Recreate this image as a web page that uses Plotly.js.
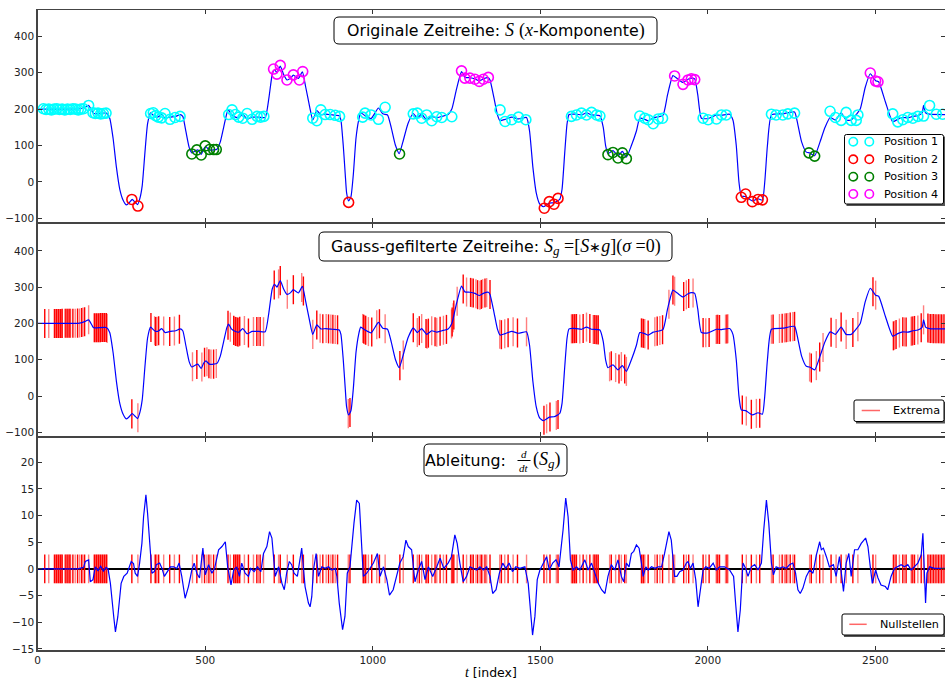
<!DOCTYPE html>
<html><head><meta charset="utf-8">
<script src="https://cdn.plot.ly/plotly-3.0.1.min.js"></script>
<style>html,body{margin:0;padding:0;background:#fff}#chart{width:945px;height:680px}</style>
</head><body><div id="chart"></div>
<script>
// ---- Original series S (x-component), key samples ----
const sT = [0,60,125,140,152,162,167,205,215,225,235,245,255,265,275,282,290,298,305,312,320,328,337,345,352,362,370,380,395,412,425,433,442,452,460,470,478,488,495,502,512,525,535,545,555,565,570,578,590,600,612,625,640,660,679,690,700,707,714,724,734,744,755,763,778,790,800,812,821,833,845,860,880,900,905,912,918,922,928,935,942,950,958,964,977,995,1017,1030,1044,1055,1068,1079,1090,1105,1121,1133,1146,1161,1176,1191,1206,1225,1236,1250,1265,1275,1290,1305,1318,1330,1345,1350,1362,1372,1380,1395,1415,1435,1459,1468,1478,1488,1498,1509,1527,1541,1558,1565,1573,1580,1586,1608,1623,1638,1653,1678,1688,1695,1702,1717,1732,1745,1757,1772,1787,1797,1812,1822,1837,1866,1880,1896,1910,1926,1941,1951,1961,1970,1981,2001,2026,2041,2065,2075,2085,2093,2100,2113,2133,2150,2163,2170,2178,2190,2224,2259,2266,2280,2294,2304,2319,2335,2350,2365,2381,2398,2413,2428,2443,2455,2470,2485,2501,2510,2530,2552,2567,2582,2597,2612,2627,2640,2644,2650,2662,2708];
const sV = [200,200,201,205,210,195,188,189,175,120,40,-20,-50,-63,-55,-48,-55,-62,-45,-10,80,160,190,183,178,180,186,175,178,180,185,180,140,95,80,85,88,76,90,97,88,88,90,110,150,190,198,185,178,176,186,172,178,178,177,230,295,308,300,318,295,280,285,293,284,302,260,205,170,196,185,186,184,182,170,100,20,-30,-52,-40,20,120,170,190,182,174,203,187,184,150,100,78,110,160,188,175,186,170,180,176,180,185,200,255,303,287,286,283,277,283,286,280,230,185,168,172,178,173,177,140,40,-30,-60,-68,-58,-57,-48,-20,80,160,185,186,184,190,184,182,150,100,78,86,72,84,68,100,140,175,172,168,176,183,240,292,283,273,282,285,283,240,175,174,184,183,186,170,100,0,-38,-40,-52,-46,-50,0,100,184,187,192,170,110,82,80,72,110,150,177,170,190,170,170,185,200,260,297,278,275,220,165,172,177,176,180,182,190,210,190,186,185];

// ---- Classified positions (circles) ----
const pos1T = [17,25,33,41,49,57,65,73,81,89,97,105,113,121,129,137,152,165,172,180,188,196,204,337,345,352,360,370,380,395,410,425,570,580,590,600,612,625,640,655,665,675,821,833,845,858,873,888,901,970,977,995,1017,1037,1121,1133,1146,1161,1176,1191,1206,1236,1380,1395,1415,1435,1457,1593,1608,1623,1638,1653,1668,1678,1797,1812,1822,1837,1852,1865,1986,2001,2026,2041,2055,2190,2204,2224,2239,2259,2365,2381,2398,2413,2428,2443,2448,2552,2567,2582,2597,2612,2627,2644,2662,2682,2701];
const pos1V = [201,199,200,198,200,201,199,200,198,200,199,201,200,198,200,201,210,190,188,189,187,188,189,188,190,182,178,176,188,172,177,180,185,198,185,178,175,188,172,180,178,180,175,168,198,185,185,183,180,178,189,184,172,205,187,189,175,184,168,179,177,179,198,166,171,178,171,180,184,189,184,191,184,181,181,175,171,160,173,175,175,171,173,184,184,186,184,184,187,189,194,177,169,191,169,169,184,187,165,171,177,175,180,181,210,186,186,186];
const pos2T = [281,299,928,1512,1527,1541,1553,2100,2113,2133,2150,2163];
const pos2V = [-48,-66,-56,-72,-54,-61,-45,-42,-33,-54,-48,-49];
const pos3T = [460,475,488,500,513,525,533,1080,1702,1717,1732,1745,1757,2302,2319];
const pos3V = [77,88,74,99,89,89,89,77,75,81,66,80,64,80,71];
const pos4T = [704,714,724,744,763,781,791,1265,1275,1290,1305,1318,1330,1345,1901,1926,1941,1951,1961,2485,2501,2508];
const pos4V = [310,296,320,280,294,280,303,305,285,285,282,276,282,287,291,268,280,283,281,299,277,275];

// ---- Extrema / zero crossings of derivative (t index) ----
const extremaT = [21,33,50,53,56,59,62,65,68,71,73,81,84,87,90,93,96,98,105,112,119,125,131,135,140,152,169,172,175,178,181,184,187,190,193,196,199,202,205,207,281,299,338,349,352,356,361,376,394,408,423,462,475,490,498,505,511,517,525,533,568,575,585,588,591,594,597,600,603,617,629,644,654,659,664,674,706,719,724,745,763,788,793,821,833,843,851,861,868,875,881,888,895,927,932,970,973,976,979,987,997,1012,1020,1037,1081,1091,1121,1133,1139,1146,1159,1162,1166,1176,1186,1191,1201,1211,1220,1235,1237,1240,1242,1252,1270,1280,1292,1296,1300,1308,1313,1320,1324,1328,1335,1340,1350,1379,1384,1394,1404,1419,1432,1459,1511,1519,1529,1548,1553,1593,1596,1599,1602,1605,1608,1618,1628,1638,1648,1658,1661,1664,1667,1670,1673,1707,1712,1725,1735,1742,1752,1757,1802,1805,1808,1812,1822,1842,1849,1857,1865,1884,1896,1901,1928,1936,1943,1956,1986,1994,2004,2025,2028,2031,2035,2053,2057,2060,2103,2115,2130,2145,2155,2190,2195,2214,2222,2229,2234,2239,2246,2254,2259,2304,2309,2324,2334,2344,2368,2383,2398,2413,2433,2448,2493,2501,2554,2558,2562,2572,2582,2587,2592,2607,2610,2613,2617,2627,2637,2644,2657,2661,2665,2669,2673,2677,2681,2685,2689,2693,2697,2701,2705];

// ---- Derivative d/dt(S_g) ----
const dT = [0,40,80,120,137,142,152,157,165,172,180,188,196,204,210,217,227,232,239,249,257,267,279,286,291,298,304,311,316,323,328,334,341,348,354,364,371,378,386,396,406,415,422,430,440,450,460,467,475,483,493,500,510,520,528,540,550,560,567,577,585,594,602,609,619,629,636,646,656,666,674,684,692,699,709,719,729,736,743,751,758,765,775,788,798,808,813,818,823,831,838,848,858,868,878,888,893,900,910,917,924,932,944,952,960,967,972,982,992,1002,1014,1022,1032,1042,1050,1061,1071,1081,1091,1099,1106,1116,1126,1136,1146,1156,1166,1179,1191,1201,1212,1225,1235,1245,1252,1260,1270,1280,1290,1300,1310,1320,1330,1340,1350,1358,1368,1378,1388,1397,1407,1417,1427,1439,1454,1464,1471,1477,1484,1491,1499,1509,1519,1527,1537,1547,1556,1568,1576,1583,1590,1598,1608,1618,1633,1643,1653,1663,1673,1683,1693,1702,1712,1722,1732,1742,1749,1757,1765,1772,1779,1787,1795,1802,1807,1815,1822,1832,1842,1852,1862,1871,1884,1891,1901,1908,1916,1926,1936,1941,1948,1956,1964,1971,1978,1986,1994,2004,2016,2025,2035,2050,2065,2077,2083,2090,2097,2105,2113,2120,2130,2140,2150,2160,2167,2175,2182,2190,2196,2204,2214,2224,2234,2244,2254,2262,2269,2276,2284,2294,2304,2314,2324,2334,2339,2345,2354,2363,2375,2383,2393,2405,2413,2421,2428,2438,2448,2458,2471,2478,2485,2491,2501,2508,2517,2530,2537,2547,2557,2567,2577,2587,2597,2607,2617,2627,2637,2642,2647,2650,2654,2662,2677,2691,2708];
const dV = [0,0,0.1,0,0.3,1.4,1.7,-2.4,-2,0.4,-0.3,0.5,-0.4,0.3,0,-2.7,-9,-11.8,-9,-2.7,-1.4,-0.8,1.4,1,-0.8,-1.4,1,4.8,9.8,13.9,10.4,4.2,-0.8,-0.5,0.8,1.1,0.1,-1.4,-0.5,0.4,0.4,0.1,1.1,-1.4,-5.5,-3.3,-0.2,1.1,-0.8,-1.7,3.9,-1.1,0.8,-0.8,0.1,3.6,4.2,5.1,0.4,-3,-0.2,0.4,-1.4,1.1,-0.8,-1.4,0.1,-0.5,0.4,-0.5,2.9,4.2,7,5.8,-1.4,0.4,-2.7,-3.9,-0.8,1.4,0.8,-0.8,-1.4,3.9,-3.3,-6.4,-7.1,-5.2,-0.2,2.9,-1.4,0.4,0.1,0.4,-0.2,0.1,-1.4,-6.4,-11.4,-8.9,-0.8,0.4,8.6,12.9,12.3,4.2,-1.4,-0.8,0.1,1.1,2.9,-1.4,0.4,-2,-4.9,-3.9,-1.4,1.1,2.3,5.4,4.2,3.6,-2.4,-0.2,1.4,-2,0.4,-1.4,0.4,2,0.1,1.1,2.3,6.4,4.8,1.1,-2.4,-1.4,0.4,0.1,-0.2,0.4,-0.2,0.4,-1.4,-4.6,-3.9,-0.8,1.1,0.1,1.1,-0.5,0.4,0.1,0.4,-2.7,-8.9,-12.4,-8.9,-2,-0.2,1.1,2.3,-0.2,1.1,1.7,0.4,7.3,13.3,9.8,1.7,-0.2,0.4,-0.2,1.7,-0.2,1.1,-0.8,-2.7,-3.9,-4.6,-1.4,0.8,-0.2,1.7,-1.4,-2.4,1.1,0.4,2.9,3.3,4.5,3.9,1.1,-1.4,0.4,-0.2,0.4,0.1,0.4,0.4,2.9,7,5.4,-1.4,-1.4,-0.5,-0.2,1.1,1.4,0.1,1.1,-2,-7.1,-3.9,-0.2,0.4,0.1,1.1,-0.2,0.4,0.4,-0.2,-1.4,-6.4,-11.8,-7.7,1.1,0.1,-1.4,0.4,0.8,-0.2,1.1,7.3,12.9,8.6,1.1,-1.1,0.4,0.1,0.4,0.1,0.8,1.1,-0.8,-3.9,-4.6,-3.6,-1.4,-0.2,-0.8,2.6,5.1,3.6,3.9,2.3,0.4,0.8,-1.4,2.3,-4.2,1.1,2.9,-1.4,3.6,3.6,4.8,5.8,4.2,0.4,-2.7,-0.2,-1.7,-3,-3.3,-3.9,-1.4,0.1,0.4,0.8,0.4,0.8,-0.2,0.4,1.1,2.6,6.7,-1.4,-6.4,-0.8,0.4,0.1,0.1,0.1];

const xTicks = [0,500,1000,1500,2000,2500];
const legend1 = ['Position 1','Position 2','Position 3','Position 4'];

// ---- helpers ----
const W = 945, H = 680;
const X = px => px / W, Y = py => 1 - py / H;
function sAt(t){
  for (let i = 0; i < sT.length - 1; i++){
    if (t >= sT[i] && t <= sT[i+1]){
      const f = (t - sT[i]) / (sT[i+1] - sT[i]);
      return sV[i] + f * (sV[i+1] - sV[i]);
    }
  }
  return sV[sV.length - 1];
}
function rrect(x0,y0,x1,y1,r){
  return `M ${X(x0+r)},${Y(y0)} L ${X(x1-r)},${Y(y0)} Q ${X(x1)},${Y(y0)} ${X(x1)},${Y(y0+r)} L ${X(x1)},${Y(y1-r)} Q ${X(x1)},${Y(y1)} ${X(x1-r)},${Y(y1)} L ${X(x0+r)},${Y(y1)} Q ${X(x0)},${Y(y1)} ${X(x0)},${Y(y1-r)} L ${X(x0)},${Y(y0+r)} Q ${X(x0)},${Y(y0)} ${X(x0+r)},${Y(y0)} Z`;
}

const BLUE = '#0000ff';
const posCols = ['#00ffff','#ff0000','#008000','#ff00ff'];
const traces = [];

// Panel 1
traces.push({x:sT, y:sV, xaxis:'x', yaxis:'y', mode:'lines', line:{color:BLUE,width:1.2,shape:'spline',smoothing:0.5}, showlegend:false, hoverinfo:'skip'});
[[pos1T,pos1V],[pos2T,pos2V],[pos3T,pos3V],[pos4T,pos4V]].forEach((p,i)=>{
  traces.push({x:p[0], y:p[1], xaxis:'x', yaxis:'y', mode:'markers', name:legend1[i], showlegend:false,
    marker:{symbol:'circle-open', size:10, color:posCols[i], line:{width:1.6, color:posCols[i]}}});
});

// Panel 2/3: extrema bars (alternating intensity)
const HALF2 = 40, HALF3 = 2.7;
for (let par = 0; par < 2; par++){
  const bx = [], by = [], cx = [], cy = [];
  extremaT.forEach((t,i)=>{
    if (i % 2 !== par) return;
    const s = sAt(t);
    bx.push(t,t,null); by.push(s-HALF2, s+HALF2, null);
    cx.push(t,t,null); cy.push(-HALF3, HALF3, null);
  });
  const col = par === 0 ? 'rgba(255,0,0,1)' : 'rgba(255,0,0,0.5)';
  traces.push({x:bx, y:by, xaxis:'x2', yaxis:'y2', mode:'lines', line:{color:col,width:1.4}, showlegend:false, hoverinfo:'skip', connectgaps:false});
  traces.push({x:cx, y:cy, xaxis:'x3', yaxis:'y3', mode:'lines', line:{color:col,width:1.4}, showlegend:false, hoverinfo:'skip', connectgaps:false});
}
traces.push({x:sT, y:sV, xaxis:'x2', yaxis:'y2', mode:'lines', line:{color:BLUE,width:1.2,shape:'spline',smoothing:0.5}, showlegend:false, hoverinfo:'skip'});
// Panel 3 derivative
traces.push({x:dT, y:dV, xaxis:'x3', yaxis:'y3', mode:'lines', line:{color:BLUE,width:1.2}, showlegend:false, hoverinfo:'skip'});

const FONT = 'DejaVu Sans';
const MATH = 'Liberation Serif';
const axBase = {range:[0,2708], tickvals:xTicks, ticks:'inside', ticklen:4, tickcolor:'#333', showline:true, mirror:'ticks', linecolor:'#444', linewidth:1.5, showgrid:false, zeroline:false, fixedrange:true};
const xd = [X(37.7), 1];
const yBase = {ticks:'inside', ticklen:4, tickcolor:'#333', showline:true, mirror:'ticks', linecolor:'#444', linewidth:1.5, showgrid:false, tickfont:{family:FONT,size:10.5,color:'#222'}, fixedrange:true};

const m = (s, sz) => `<span style="font-family:'${MATH}';font-size:${sz||18}px"><i>${s}</i></span>`;
const r = (s, sz) => `<span style="font-family:'${MATH}';font-size:${sz||18}px">${s}</span>`;

const shapes = [];
const annotations = [];
const TSZ = 15.8;
function titleBox(x0,y0,x1,y1,text){
  shapes.push({type:'path', path:rrect(x0,y0,x1,y1,5), xref:'paper', yref:'paper', line:{color:'#000',width:1}, fillcolor:'#fff', layer:'above'});
  if (text) annotations.push({xref:'paper', yref:'paper', x:X((x0+x1)/2), y:Y((y0+y1)/2), xanchor:'center', yanchor:'middle', showarrow:false, text:text, font:{family:FONT,size:TSZ,color:'#000'}});
}
titleBox(334,17,657,44, `Originale Zeitreihe: ${m('S')} ${r('(')}${m('x')}-Komponente${r(')')}`);
titleBox(319,232,672,261, `Gauss-gefilterte Zeitreihe: ${m('S')}<sub>${m('g',13)}</sub>${r(' =[')}${m('S')}${r('∗',14)}${m('g')}${r('](')}${m('σ')}${r(' =0)')}`);
titleBox(424,444,567,476, '');
annotations.push({xref:'paper', yref:'paper', x:X(508), y:Y(460), xanchor:'right', yanchor:'middle', showarrow:false, text:'Ableitung:', font:{family:FONT,size:TSZ,color:'#000'}});
annotations.push({xref:'paper', yref:'paper', x:X(524), y:Y(453.5), xanchor:'center', yanchor:'middle', showarrow:false, text:m('d',11), font:{family:FONT,size:11,color:'#000'}});
annotations.push({xref:'paper', yref:'paper', x:X(524), y:Y(467.5), xanchor:'center', yanchor:'middle', showarrow:false, text:m('dt',11), font:{family:FONT,size:11,color:'#000'}});
shapes.push({type:'line', xref:'paper', yref:'paper', x0:X(517.5), x1:X(530.5), y0:Y(460.5), y1:Y(460.5), line:{color:'#000',width:1}, layer:'above'});
annotations.push({xref:'paper', yref:'paper', x:X(531), y:Y(460), xanchor:'left', yanchor:'middle', showarrow:false, text:`${r('(')}${m('S')}<sub>${m('g',13)}</sub>${r(')')}`, font:{family:FONT,size:TSZ,color:'#000'}});

// Legend boxes
function legBox(x0,y0,x1,y1){
  shapes.push({type:'rect', xref:'paper', yref:'paper', x0:X(x0+2), x1:X(x1+2), y0:Y(y0+2), y1:Y(y1+2), line:{width:0}, fillcolor:'#555', layer:'above'});
  shapes.push({type:'path', path:rrect(x0,y0,x1,y1,2), xref:'paper', yref:'paper', line:{color:'#000',width:1}, fillcolor:'#fff', layer:'above'});
}
const LSZ = 11.2;
legBox(844.5,134.5,943.5,204);
const rowsY = [141.7,159.3,176.7,194];
legend1.forEach((lbl,i)=>{
  [853.3,869.3].forEach(cx=>{
    shapes.push({type:'circle', xref:'paper', yref:'paper', x0:X(cx-4.2), x1:X(cx+4.2), y0:Y(rowsY[i]-4.2), y1:Y(rowsY[i]+4.2), line:{color:posCols[i],width:1.6}, fillcolor:'rgba(0,0,0,0)', layer:'above'});
  });
  annotations.push({xref:'paper', yref:'paper', x:X(882), y:Y(rowsY[i]), xanchor:'left', yanchor:'middle', showarrow:false, text:lbl, font:{family:FONT,size:LSZ,color:'#000'}});
});
legBox(854,400,944,421.5);
shapes.push({type:'line', xref:'paper', yref:'paper', x0:X(861.7), x1:X(880), y0:Y(410.5), y1:Y(410.5), line:{color:'rgba(255,0,0,0.6)',width:1.5}, layer:'above'});
annotations.push({xref:'paper', yref:'paper', x:X(891), y:Y(410.5), xanchor:'left', yanchor:'middle', showarrow:false, text:'Extrema', font:{family:FONT,size:LSZ,color:'#000'}});
legBox(842,614,944,635);
shapes.push({type:'line', xref:'paper', yref:'paper', x0:X(849.3), x1:X(866.7), y0:Y(624.3), y1:Y(624.3), line:{color:'rgba(255,0,0,0.6)',width:1.5}, layer:'above'});
annotations.push({xref:'paper', yref:'paper', x:X(878), y:Y(624.3), xanchor:'left', yanchor:'middle', showarrow:false, text:'Nullstellen', font:{family:FONT,size:LSZ,color:'#000'}});

// x-axis title
annotations.push({xref:'paper', yref:'paper', x:X(491), y:Y(672), xanchor:'center', yanchor:'middle', showarrow:false, text:`${m('t',14)} [index]`, font:{family:FONT,size:12.5,color:'#000'}});

const layout = {
  width:W, height:H, margin:{l:0,r:0,t:0,b:0}, paper_bgcolor:'#fff', plot_bgcolor:'#fff', showlegend:false,
  font:{family:FONT, color:'#222'},
  xaxis: Object.assign({}, axBase, {domain:xd, anchor:'y', showticklabels:false}),
  xaxis2: Object.assign({}, axBase, {domain:xd, anchor:'y2', showticklabels:false}),
  xaxis3: Object.assign({}, axBase, {domain:xd, anchor:'y3', showticklabels:true, tickfont:{family:FONT,size:10.5,color:'#222'}}),
  yaxis: Object.assign({}, yBase, {domain:[Y(221.7), Y(10)], range:[-109,472], tick0:0, dtick:100, anchor:'x', zeroline:false}),
  yaxis2: Object.assign({}, yBase, {domain:[Y(436), Y(224)], range:[-110,474], tick0:0, dtick:100, anchor:'x2', zeroline:false}),
  yaxis3: Object.assign({}, yBase, {domain:[Y(650), Y(438.3)], range:[-15.2,24.5], tick0:0, dtick:5, anchor:'x3', zeroline:true, zerolinecolor:'#000', zerolinewidth:1.5}),
  shapes:shapes, annotations:annotations
};
Plotly.newPlot('chart', traces, layout, {staticPlot:true, displayModeBar:false});
</script></body></html>
